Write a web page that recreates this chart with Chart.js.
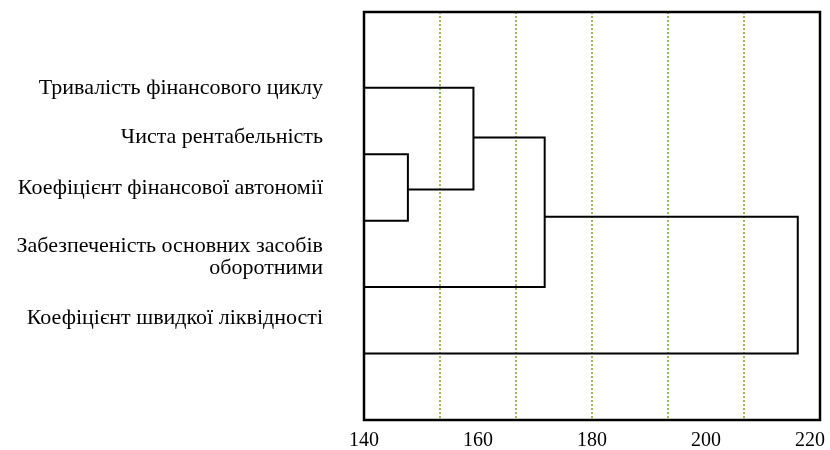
<!DOCTYPE html>
<html>
<head>
<meta charset="utf-8">
<script src="https://cdn.jsdelivr.net/npm/chart.js@4/dist/chart.umd.min.js"></script>
<style>
  html, body { margin: 0; padding: 0; background: #fff; }
  #wrap { width: 830px; height: 450px; }
</style>
</head>
<body>
<div id="wrap"><canvas id="dendro" width="830" height="450"></canvas></div>
<script>
"use strict";

// Назви показників (зверху вниз)
const labels = [
    'Тривалість фінансового циклу',
    'Чиста рентабельність',
    'Коефіцієнт фінансової автономії',
    ['Забезпеченість основних засобів', 'оборотними'],
    'Коефіцієнт швидкої ліквідності'
];

// Листки дендрограми: рівень по осі Y
const leafY = [5, 4, 3, 2, 1];

// Об'єднання кластерів: вузли 0-4 листки, 5+ результати об'єднань
const mergePairs = [[1, 2], [0, 5], [6, 3], [7, 4]];
const mergeHeight = [147.7, 159.2, 171.7, 216.1];
const mergeY = [3.47, 4.25, 3.06, 2.03];

// Шкала відстаней
const xMin = 140;
const xMax = 220;
const xStep = 20;
const gridParts = 6;

// Позиції підписів зліва (у одиницях осі Y)
const labelAt = [4.99, 4.25, 3.49, 2.45, 1.53];

function nodeX(i) {
    return i < leafY.length ? xMin : mergeHeight[i - leafY.length];
}
function nodeY(i) {
    return i < leafY.length ? leafY[i] : mergeY[i - leafY.length];
}

const datasets = mergePairs.map(function (pair, k) {
    const a = pair[0], b = pair[1];
    return {
        data: [
            { x: nodeX(a), y: nodeY(a) },
            { x: mergeHeight[k], y: nodeY(a) },
            { x: mergeHeight[k], y: nodeY(b) },
            { x: nodeX(b), y: nodeY(b) }
        ],
        showLine: true,
        borderColor: '#000',
        borderWidth: 2,
        pointRadius: 0,
        fill: false,
        tension: 0
    };
});

// Рамка навколо області графіка
const frame = {
    id: 'frame',
    afterDatasetsDraw: function (chart) {
        const a = chart.chartArea;
        const ctx = chart.ctx;
        ctx.save();
        ctx.strokeStyle = '#000';
        ctx.lineWidth = 2.5;
        ctx.strokeRect(a.left, a.top, a.right - a.left, a.bottom - a.top);
        ctx.restore();
    }
};

Chart.defaults.font.family = '"Liberation Serif", "Times New Roman", serif';
Chart.defaults.color = '#000';

new Chart(document.getElementById('dendro'), {
    type: 'scatter',
    data: { datasets: datasets },
    plugins: [frame],
    options: {
        responsive: false,
        animation: false,
        events: [],
        layout: { padding: { top: 12, right: 10, left: 0, bottom: 0 } },
        plugins: {
            legend: { display: false },
            tooltip: { enabled: false }
        },
        scales: {
            x: {
                type: 'linear',
                position: 'bottom',
                min: xMin,
                max: xMax,
                grid: { display: false, drawTicks: false },
                border: { display: false },
                ticks: {
                    stepSize: xStep,
                    padding: 11,
                    font: { size: 20, lineHeight: 1 },
                    callback: function (v) {
                        return v === xMax ? v + '    ' : String(v);
                    }
                },
                afterFit: function (scale) {
                    scale.height = 30;
                    scale.paddingLeft = 0;
                    scale.paddingRight = 0;
                }
            },
            xg: {
                type: 'linear',
                position: 'top',
                min: xMin,
                max: xMax,
                border: { display: false, dash: [2, 2] },
                grid: {
                    drawTicks: false,
                    lineWidth: 2,
                    color: function (c) {
                        const v = c.tick && c.tick.value;
                        return (v === xMin || v === xMax) ? 'rgba(0,0,0,0)' : '#9bbb59';
                    }
                },
                ticks: {
                    display: false,
                    stepSize: (xMax - xMin) / gridParts
                },
                afterFit: function (scale) {
                    scale.height = 0;
                    scale.paddingLeft = 0;
                    scale.paddingRight = 0;
                }
            },
            y: {
                type: 'linear',
                min: 0,
                max: 6.14,
                grid: { display: false, drawTicks: false },
                border: { display: false },
                afterBuildTicks: function (scale) {
                    scale.ticks = labelAt.map(function (v) { return { value: v }; });
                },
                ticks: {
                    padding: 41,
                    font: { size: 22, lineHeight: 1 },
                    callback: function (v, i) { return labels[i]; }
                },
                afterFit: function (scale) {
                    scale.width = 364;
                    scale.paddingTop = 0;
                    scale.paddingBottom = 0;
                }
            }
        }
    }
});
</script>
</body>
</html>
